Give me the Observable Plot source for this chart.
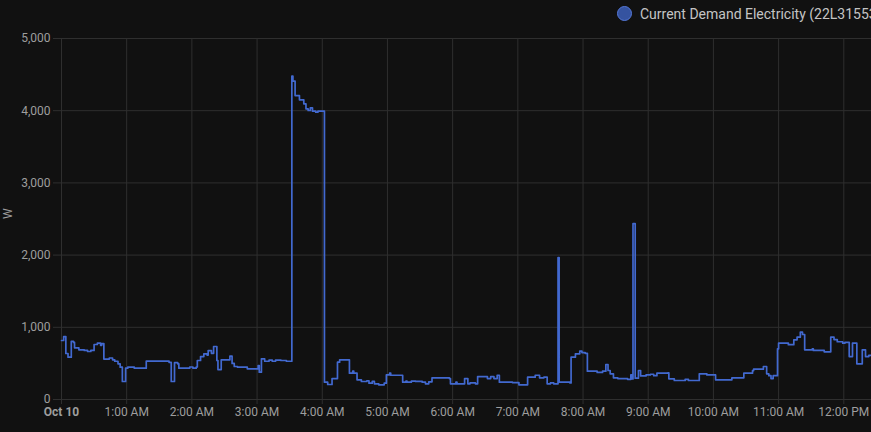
<!DOCTYPE html>
<html>
<head>
<meta charset="utf-8">
<script src="https://cdn.jsdelivr.net/npm/d3@7"></script>
<script src="https://cdn.jsdelivr.net/npm/@observablehq/plot@0.6"></script>
<style>
html, body { margin: 0; padding: 0; background: #111111; overflow: hidden; }
#wrap { width: 871px; height: 432px; position: relative; overflow: hidden; font-family: Roboto, sans-serif; background: #111111; }
#legend { position: absolute; left: 0; top: 0; width: 871px; height: 28px; white-space: nowrap; overflow: hidden; }
#legend .dot { position: absolute; left: 617px; top: 6px; width: 13px; height: 13px; border-radius: 50%; background: rgba(66,105,208,0.75); border: 1.5px solid #5578d8; }
#legend .lab { position: absolute; left: 640px; top: 4.5px; font-size: 14px; line-height: 18px; color: #c4c4c4; }
#chart { position: absolute; left: 0; top: 28px; width: 871px; height: 404px; overflow: hidden; }
</style>
</head>
<body>
<div id="wrap">
  <div id="legend"><span class="dot"></span><span class="lab" id="legendLabel"></span></div>
  <div id="chart"></div>
</div>
<script>
// ---- data ----
const seriesName = "Current Demand Electricity (22L31553";
const dayLabel = "Oct 10";
const unitLabel = "W";
const yTickValues = [0, 1000, 2000, 3000, 4000, 5000];
const domainStart = "00:00";
const domainEnd = "12:25:30";

const times = [
  "00:00","00:02","00:04","00:06","00:09","00:11","00:12","00:16","00:21","00:24",
  "00:27","00:30","00:33","00:36","00:37","00:39","00:44","00:47","00:49","00:52",
  "00:54","00:56","00:59","01:01","01:07","01:18","01:39","01:41","01:44","01:47",
  "01:48","01:58","02:01","02:04","02:05","02:08","02:11","02:14","02:15","02:18",
  "02:20","02:23","02:24","02:27","02:35","02:37","02:39","02:42","02:51","03:01",
  "03:02","03:04","03:07","03:11","03:14","03:17","03:22","03:27","03:32","03:33",
  "03:35","03:39","03:43","03:45","03:47","03:49","03:51","03:54","03:56","04:02",
  "04:05","04:09","04:14","04:16","04:25","04:28","04:29","04:32","04:36","04:41",
  "04:43","04:46","04:48","04:52","04:57","04:59","05:02","05:03","05:14","05:17",
  "05:18","05:22","05:26","05:32","05:35","05:38","05:41","05:57","05:58","06:03",
  "06:04","06:11","06:14","06:16","06:21","06:23","06:32","06:35","06:38","06:41",
  "06:43","06:55","07:01","07:09","07:16","07:20","07:24","07:27","07:30","07:33",
  "07:37","07:38","07:48","07:49","07:53","07:57","07:59","08:02","08:04","08:13",
  "08:18","08:21","08:23","08:25","08:28","08:32","08:41","08:44","08:45","08:46",
  "08:48","08:51","08:53","08:58","09:02","09:05","09:08","09:18","09:19","09:24",
  "09:34","09:37","09:47","09:54","10:02","10:17","10:28","10:36","10:37","10:46",
  "10:49","10:51","10:53","10:55","10:59","11:00","11:09","11:14","11:17","11:20",
  "11:22","11:24","11:31","11:32","11:42","11:48","11:51","11:54","11:59","12:01",
  "12:05","12:08","12:12","12:17","12:20","12:23","12:25:30"
];
const watts = [
  817,872,637,586,807,790,716,688,680,665,
  680,762,780,750,775,560,575,550,530,494,
  448,249,434,448,434,531,515,249,510,494,
  434,450,434,450,540,595,632,615,678,640,
  734,540,415,549,600,499,457,448,425,470,
  378,563,530,545,530,545,540,530,4478,4409,
  4210,4150,4095,4026,4003,4040,3993,3980,3993,240,
  208,290,517,550,364,392,364,273,249,260,
  226,250,217,203,226,342,364,336,240,254,
  240,254,250,240,217,245,300,290,217,240,
  217,290,217,230,217,318,290,318,290,336,
  240,235,203,309,336,300,309,217,230,217,
  1967,240,230,586,632,669,650,640,392,375,
  392,485,402,355,300,290,280,342,285,2437,
  295,402,327,340,350,330,365,370,287,263,
  280,263,355,340,273,300,364,400,420,457,
  355,330,290,330,702,780,760,827,863,932,
  900,688,700,680,660,863,830,800,780,790,
  595,780,494,688,595,610,610
];

// ---- build ----
function parseTime(s) {
  const [h, m, sec = 0] = s.split(":").map(Number);
  return new Date(2024, 9, 10, h, m, sec);
}
const data = times.map((t, i) => ({t: parseTime(t), w: watts[i]}));
const xTicks = d3.range(0, 13).map(h => new Date(2024, 9, 10, h));

document.getElementById("legendLabel").textContent = seriesName;

const gridColor = "#2f2f2f";
const textColor = "#9e9e9e";

const chart = Plot.plot({
  width: 871,
  height: 404,
  marginLeft: 61,
  marginRight: 0,
  marginTop: 10,
  marginBottom: 33,
  style: {background: "#111111", color: textColor, fontFamily: "Roboto, sans-serif", fontSize: "12px", overflow: "hidden"},
  x: {type: "time", domain: [parseTime(domainStart), parseTime(domainEnd)]},
  y: {domain: [0, 5000]},
  marks: [
    Plot.gridY(yTickValues, {stroke: gridColor, strokeOpacity: 1}),
    Plot.gridX(xTicks, {stroke: gridColor, strokeOpacity: 1}),
    Plot.axisY(yTickValues, {tickSize: 8, tickPadding: 3, stroke: gridColor, fill: textColor, tickFormat: d3.format(","), label: null}),
    Plot.axisX(xTicks.slice(1), {tickSize: 5, tickPadding: 3, stroke: gridColor, fill: textColor, tickFormat: d3.timeFormat("%-I:%M %p"), label: null}),
    Plot.axisX(xTicks.slice(0, 1), {tickSize: 5, tickPadding: 3, stroke: gridColor, fill: textColor, fontWeight: "bold", tickFormat: () => dayLabel, label: null}),
    Plot.line(data, {x: "t", y: "w", curve: "step-after", stroke: "#4269d0", strokeWidth: 1.7}),
    Plot.text([unitLabel], {frameAnchor: "left", dx: -53, rotate: -90, fill: textColor, fontSize: 12})
  ]
});
document.getElementById("chart").appendChild(chart);
</script>
</body>
</html>
